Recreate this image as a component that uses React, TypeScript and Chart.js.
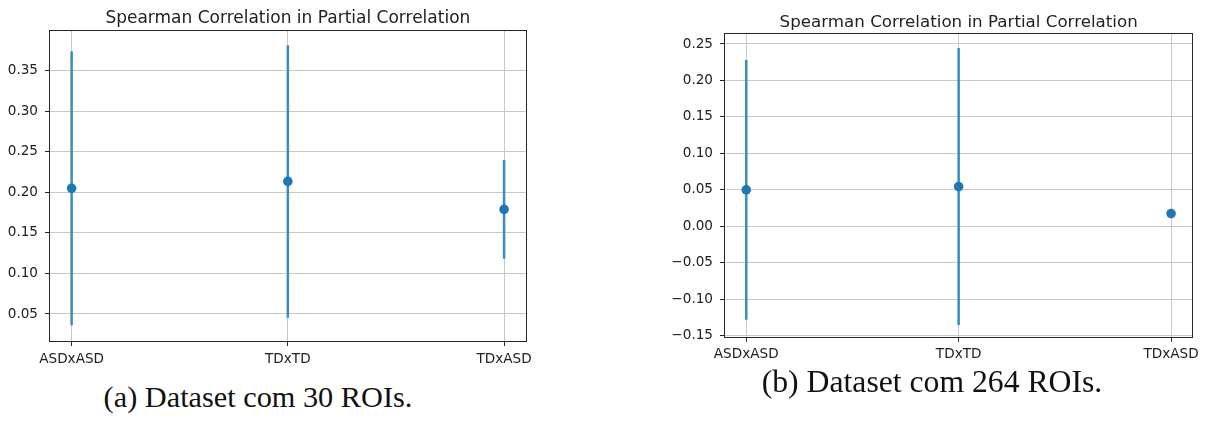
import React, { useEffect, useRef } from 'react';
import { Chart, registerables } from 'chart.js';

Chart.register(...registerables);

// ---- data ----
const categories = ['ASDxASD', 'TDxTD', 'TDxASD'];
const categoryPositions = [0, 1, 2];

const means30 = [0.205, 0.2135, 0.179];
const errors30: (number | null)[] = [0.169, 0.168, 0.061];
const yTicks30 = [0.05, 0.1, 0.15, 0.2, 0.25, 0.3, 0.35];

const means264 = [0.05, 0.0545, 0.0175];
const errors264: (number | null)[] = [0.178, 0.19, null];
const yTicks264 = [-0.15, -0.1, -0.05, 0, 0.05, 0.1, 0.15, 0.2, 0.25];

const titleText = 'Spearman Correlation in Partial Correlation';
const captionA = '(a) Dataset com 30 ROIs.';
const captionB = '(b) Dataset com 264 ROIs.';

// ---- layout / style ----
type Layout = {
  left: number;
  width: number;
  height: number;
  yMin: number;
  yMax: number;
  titleSize: number;
  titlePadTop: number;
  titlePadBottom: number;
  yAxisWidth: number;
  xAxisHeight: number;
  padRight: number;
};

const layoutA: Layout = {
  left: 0, width: 560, height: 372,
  yMin: 0.0167, yMax: 0.399,
  titleSize: 17, titlePadTop: 8.8, titlePadBottom: 1.8,
  yAxisWidth: 50, xAxisHeight: 31, padRight: 34.3,
};
const layoutB: Layout = {
  left: 620, width: 586, height: 372,
  yMin: -0.1514, yMax: 0.2641,
  titleSize: 16.7, titlePadTop: 12.5, titlePadBottom: 1.16,
  yAxisWidth: 105, xAxisHeight: 35.3, padRight: 13.7,
};

const TICK_FONT = { family: 'DejaVu Sans', size: 13.6 };
const TEXT_COLOR = '#222222';
const GRID_COLOR = '#c8c8c8';
const SPINE_COLOR = '#262626';
const DOT_COLOR = '#1f77b4';
const BAR_COLOR = '#3b8bc2';

const framePlugin = {
  id: 'frame',
  afterDatasetsDraw(chart: any) {
    const { ctx, chartArea: a } = chart;
    ctx.save();
    ctx.strokeStyle = SPINE_COLOR;
    ctx.lineWidth = 1;
    const l = Math.round(a.left) - 0.5;
    const t = Math.round(a.top) - 0.5;
    const r = Math.round(a.right) + 0.5;
    const b = Math.round(a.bottom) + 0.5;
    ctx.strokeRect(l, t, r - l, b - t);
    ctx.restore();
  },
};

function fmt(v: number) {
  const s = Math.abs(v).toFixed(2);
  return v < -1e-9 ? '\u2212' + s : s;
}

function Panel({ means, errors, yTicks, layout }: {
  means: number[]; errors: (number | null)[]; yTicks: number[]; layout: Layout;
}) {
  const ref = useRef<HTMLCanvasElement>(null);
  useEffect(() => {
    const errData: any[] = [];
    categoryPositions.forEach((x, i) => {
      const e = errors[i];
      if (e == null) return;
      errData.push({ x, y: means[i] - e }, { x, y: means[i] + e }, { x, y: null });
    });
    const chart = new Chart(ref.current as HTMLCanvasElement, {
      type: 'line',
      data: {
        datasets: [
          {
            data: categoryPositions.map((x, i) => ({ x, y: means[i] })),
            showLine: false,
            pointRadius: 4.8,
            pointBackgroundColor: DOT_COLOR,
            pointBorderWidth: 0,
            borderColor: DOT_COLOR,
          },
          {
            data: errData,
            borderColor: BAR_COLOR,
            borderWidth: 2.5,
            pointRadius: 0,
            spanGaps: false,
            tension: 0,
            borderCapStyle: 'butt',
          },
        ],
      } as any,
      options: {
        responsive: false,
        animation: false,
        devicePixelRatio: 1,
        layout: { padding: { left: 0, right: layout.padRight, top: 0, bottom: 0 } },
        plugins: {
          legend: { display: false },
          tooltip: { enabled: false },
          title: {
            display: true,
            text: titleText,
            fullSize: false,
            color: TEXT_COLOR,
            font: { family: 'DejaVu Sans', size: layout.titleSize, weight: 'normal', lineHeight: 1.2 },
            padding: { top: layout.titlePadTop, bottom: layout.titlePadBottom },
          },
        },
        scales: {
          x: {
            type: 'linear',
            min: -0.1,
            max: 2.1,
            afterBuildTicks: (s: any) => { s.ticks = categoryPositions.map((v) => ({ value: v })); },
            afterFit: (s: any) => { s.height = layout.xAxisHeight; },
            ticks: {
              autoSkip: false,
              maxRotation: 0,
              padding: 5,
              color: TEXT_COLOR,
              font: TICK_FONT,
              callback: (_v: any, i: number) => categories[i],
            },
            grid: { color: GRID_COLOR, lineWidth: 1, tickColor: SPINE_COLOR, tickLength: 5, tickWidth: 1 },
            border: { display: false },
          },
          y: {
            type: 'linear',
            min: layout.yMin,
            max: layout.yMax,
            afterBuildTicks: (s: any) => { s.ticks = yTicks.map((v) => ({ value: v })); },
            afterFit: (s: any) => { s.width = layout.yAxisWidth; },
            ticks: {
              autoSkip: false,
              padding: 7,
              color: TEXT_COLOR,
              font: TICK_FONT,
              callback: (v: any) => fmt(Number(v)),
            },
            grid: { color: GRID_COLOR, lineWidth: 1, tickColor: SPINE_COLOR, tickLength: 5, tickWidth: 1 },
            border: { display: false },
          },
        },
      } as any,
      plugins: [framePlugin],
    });
    return () => chart.destroy();
  }, []);
  return (
    <canvas
      ref={ref}
      width={layout.width}
      height={layout.height}
      style={{ position: 'absolute', left: layout.left, top: 0, width: layout.width, height: layout.height }}
    />
  );
}

function Caption({ text, center, top, size }: { text: string; center: number; top: number; size: number }) {
  return (
    <div
      style={{
        position: 'absolute',
        left: center - 300,
        width: 600,
        top,
        textAlign: 'center',
        fontFamily: '"Liberation Serif", serif',
        fontSize: size,
        lineHeight: `${size}px`,
        color: '#111',
        whiteSpace: 'nowrap',
      }}
    >
      {text}
    </div>
  );
}

export default function App() {
  return (
    <div style={{ position: 'fixed', left: 0, top: 0, width: 1206, height: 421, background: '#fff', overflow: 'hidden' }}>
      <Panel means={means30} errors={errors30} yTicks={yTicks30} layout={layoutA} />
      <Panel means={means264} errors={errors264} yTicks={yTicks264} layout={layoutB} />
      <Caption text={captionA} center={258} top={381.5} size={30.3} />
      <Caption text={captionB} center={932} top={366} size={31.7} />
    </div>
  );
}
